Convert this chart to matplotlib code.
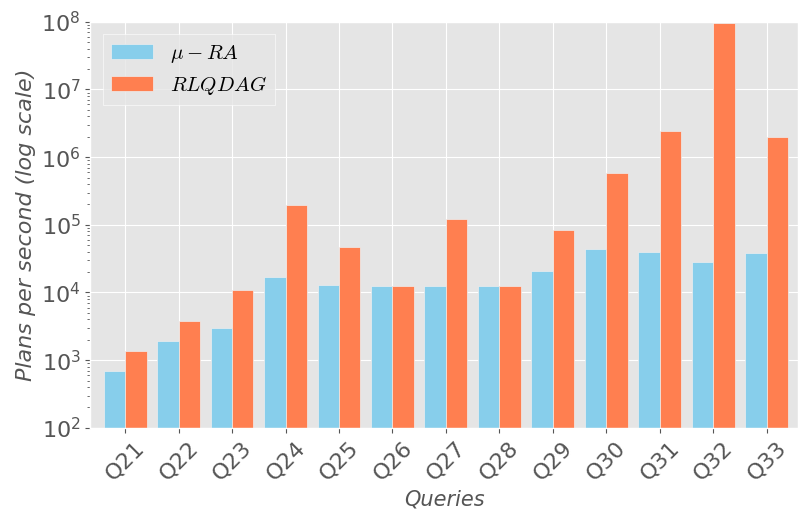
import matplotlib
matplotlib.use("Agg")
import matplotlib.pyplot as plt
import numpy as np

plt.style.use("ggplot")
plt.rcParams["mathtext.fontset"] = "cm"

queries = ["Q21", "Q22", "Q23", "Q24", "Q25", "Q26", "Q27", "Q28", "Q29", "Q30", "Q31", "Q32", "Q33"]
mu_ra = [700, 1950, 3000, 17000, 12800, 12500, 12500, 12500, 21000, 44000, 39000, 28000, 38500]
rlqdag = [1380, 3800, 11000, 195000, 47000, 12500, 122000, 12500, 85000, 580000, 2450000, 97000000, 2000000]

fig, ax = plt.subplots(figsize=(8, 5.18), dpi=100)
x = np.arange(len(queries))
w = 0.4
ax.bar(x - w / 2, mu_ra, w, color="skyblue", label=r"$\mu-RA$", edgecolor="#EEEEEE", linewidth=0.5)
ax.bar(x + w / 2, rlqdag, w, color="coral", label=r"$RLQDAG$", edgecolor="#EEEEEE", linewidth=0.5)
ax.set_yscale("log")
ax.set_ylim(1e2, 1e8)
ax.set_xlim(-0.65, 12.58)
ax.set_xticks(x)
ax.set_xticklabels(queries, rotation=45, fontsize=16)
ax.tick_params(axis="y", labelsize=16)
ax.set_ylabel("Plans per second (log scale)", fontsize=16, style="italic")
ax.set_xlabel("Queries", fontsize=15, style="italic")
leg = ax.legend(loc="upper left", fontsize=15, fancybox=False, borderaxespad=0.6, labelspacing=0.45)
leg.get_frame().set_edgecolor("white")
leg.get_frame().set_facecolor("#E5E5E5")
fig.subplots_adjust(left=0.113, right=0.997, top=0.958, bottom=0.174)
fig.savefig("out.png", dpi=100)
